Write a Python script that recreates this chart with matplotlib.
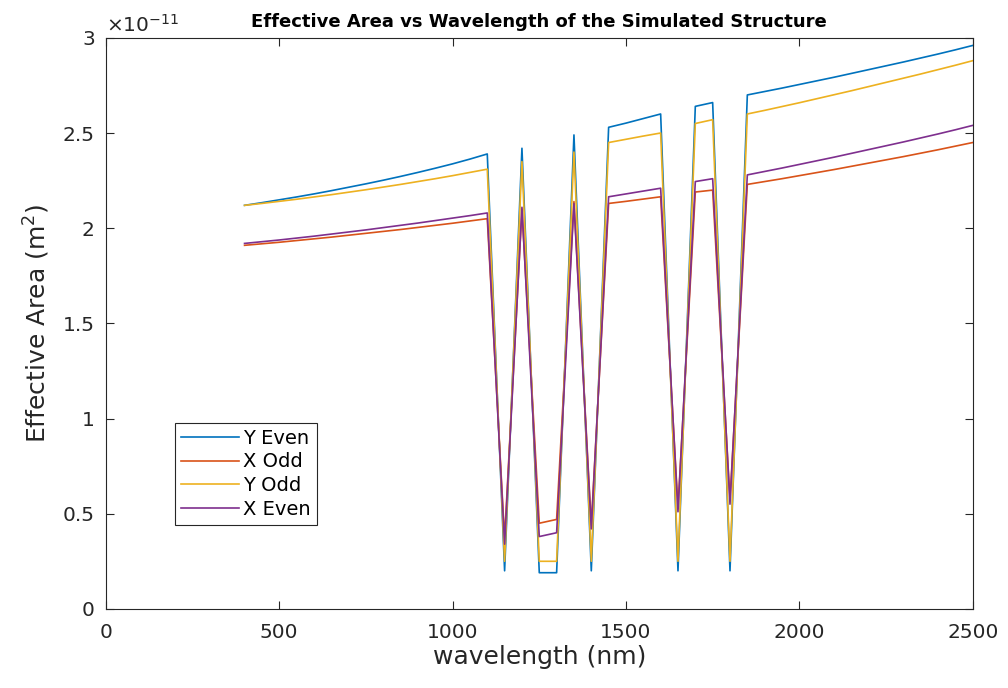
import numpy as np
import matplotlib
matplotlib.use("Agg")
import matplotlib.pyplot as plt

wavelength = np.arange(400, 2501, 50)

y_even = [2.120, 2.134, 2.149, 2.164, 2.180, 2.197, 2.215, 2.233, 2.252, 2.272, 2.293, 2.315, 2.338, 2.363, 2.390,
          0.20, 2.42, 0.19, 0.19, 2.49, 0.20,
          2.53, 2.552, 2.576, 2.60, 0.20, 2.64, 2.66, 0.20,
          2.700, 2.718, 2.736, 2.755, 2.774, 2.793, 2.813, 2.833, 2.853, 2.873, 2.894, 2.915, 2.937, 2.960]
x_odd = [1.910, 1.918, 1.926, 1.935, 1.944, 1.953, 1.963, 1.973, 1.983, 1.993, 2.004, 2.015, 2.026, 2.038, 2.050,
         0.37, 2.10, 0.45, 0.47, 2.14, 0.44,
         2.13, 2.141, 2.153, 2.165, 0.53, 2.19, 2.20, 0.57,
         2.230, 2.245, 2.260, 2.276, 2.292, 2.308, 2.325, 2.342, 2.359, 2.376, 2.394, 2.412, 2.431, 2.450]
y_odd = [2.120, 2.130, 2.141, 2.152, 2.164, 2.176, 2.189, 2.202, 2.216, 2.230, 2.245, 2.260, 2.276, 2.293, 2.310,
         0.25, 2.35, 0.25, 0.25, 2.40, 0.25,
         2.45, 2.467, 2.484, 2.50, 0.25, 2.55, 2.57, 0.25,
         2.600, 2.619, 2.639, 2.659, 2.680, 2.701, 2.722, 2.744, 2.766, 2.788, 2.810, 2.833, 2.856, 2.880]
x_even = [1.920, 1.929, 1.938, 1.948, 1.958, 1.969, 1.980, 1.991, 2.003, 2.015, 2.027, 2.040, 2.053, 2.066, 2.080,
          0.34, 2.11, 0.38, 0.40, 2.13, 0.42,
          2.165, 2.180, 2.195, 2.21, 0.51, 2.245, 2.26, 0.55,
          2.280, 2.298, 2.316, 2.335, 2.354, 2.373, 2.393, 2.413, 2.433, 2.453, 2.474, 2.495, 2.517, 2.540]

series = [("Y Even", y_even, "#0072BD"), ("X Odd", x_odd, "#D95319"),
          ("Y Odd", y_odd, "#EDB120"), ("X Even", x_even, "#7E2F8E")]

xticks = [0, 500, 1000, 1500, 2000, 2500]
yticks = [0, 0.5, 1, 1.5, 2, 2.5, 3]
ytick_labels = ["0", "0.5", "1", "1.5", "2", "2.5", "3"]

plt.rcParams['font.family'] = ['DejaVu Sans']
fig = plt.figure(figsize=(10.08, 6.88), dpi=100)
ax = fig.add_axes([0.105, 0.115, 0.860, 0.830])

for name, vals, col in series:
    ax.plot(wavelength, vals, color=col, lw=1.2, label=name)

ax.set_xlim(0, 2500)
ax.set_ylim(0, 3)
ax.set_xticks(xticks)
ax.set_yticks(yticks)
ax.set_yticklabels(ytick_labels)
ax.tick_params(direction='in', top=True, right=True, length=6, width=0.8,
               labelsize=14.5, colors='#262626')
ax.tick_params(axis='x', pad=10)
ax.tick_params(axis='y', pad=8)
for s in ax.spines.values():
    s.set_color('#262626')
    s.set_linewidth(0.8)

ax.set_xlabel("wavelength (nm)", fontsize=18, color='#262626', labelpad=2)
ax.set_ylabel("Effective Area (m$^2$)", fontsize=18, color='#262626', labelpad=8)
ax.set_title("Effective Area vs Wavelength of the Simulated Structure",
             fontsize=13, fontweight='bold', pad=8)
ax.text(0.0, 1.003, r"$\times10^{-11}$", transform=ax.transAxes, fontsize=14.5,
        color='#262626', ha='left', va='bottom')

leg = ax.legend(loc='upper left', bbox_to_anchor=(0.08, 0.326), fontsize=14,
                fancybox=False, framealpha=1, edgecolor='#262626', borderaxespad=0,
                handlelength=3.0, borderpad=0.3, labelspacing=0.25, handletextpad=0.2)
leg.get_frame().set_linewidth(0.8)

fig.savefig("out.png", dpi=100)
